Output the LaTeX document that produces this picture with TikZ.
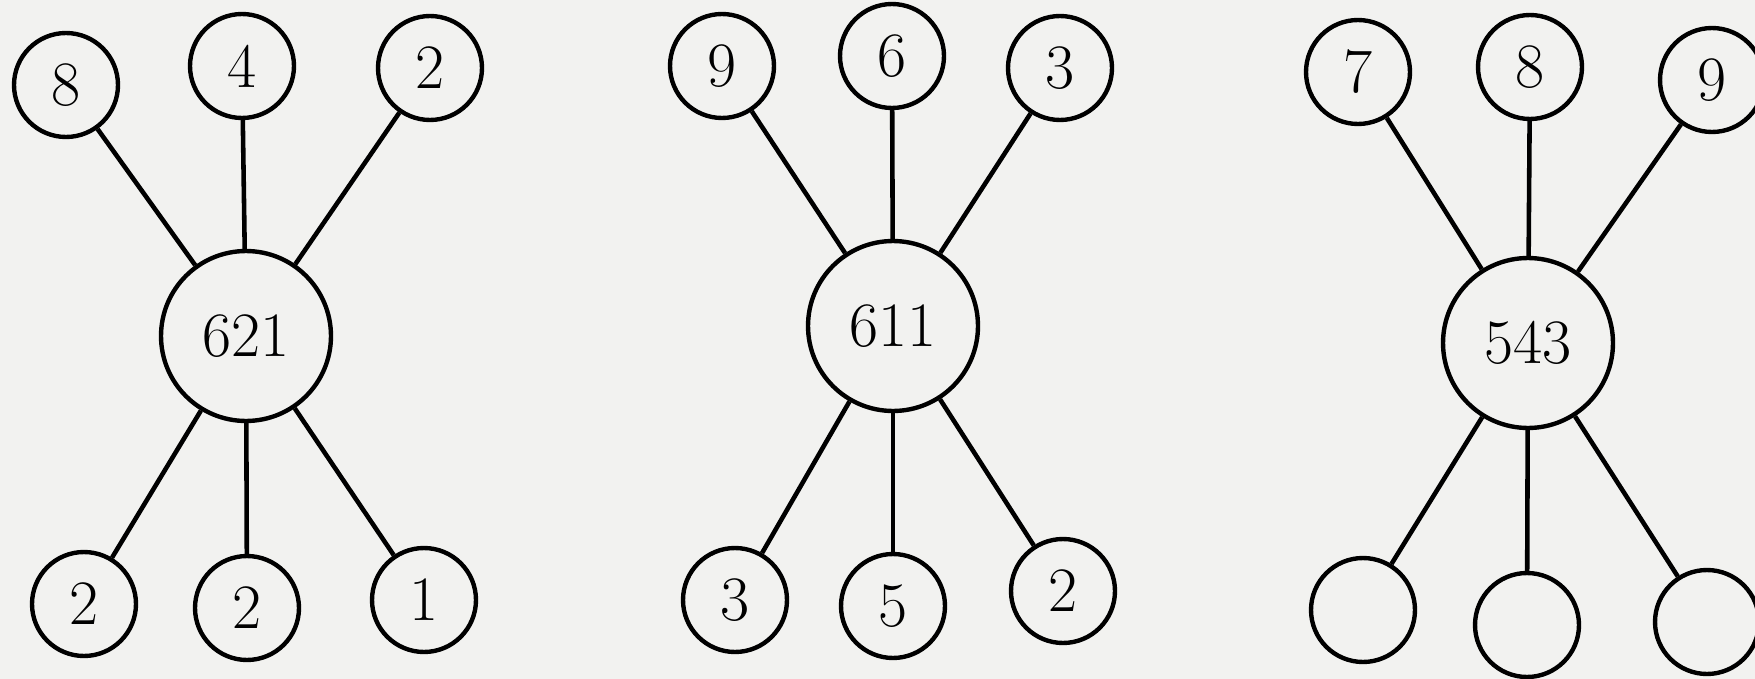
\documentclass[tikz,border=0pt]{standalone}
\usepackage{tikz}
\usepackage{xcolor}
\usetikzlibrary{positioning}
\definecolor{paper}{rgb}{0.95,0.95,0.94}

\begin{document}
\begin{tikzpicture}[x=0.02cm, y=-0.02cm,
    leaf/.style={circle, draw, line width=2.5pt, minimum size=2.08cm, inner sep=0pt, font=\fontsize{36}{40}\selectfont},
    hub/.style={circle, draw, line width=2.5pt, minimum size=3.4cm, inner sep=0pt, font=\fontsize{36}{40}\selectfont},
    spoke/.style={line width=2.6pt}]
\useasboundingbox (0,0) rectangle (1755,679);
\fill[paper] (0,0) rectangle (1755,679);
\clip (0,0) rectangle (1755,679);

% First star
\node[hub] (h1) at (246,336) {621};
\node[leaf] (a1) at (66,85) {8};
\node[leaf] (b1) at (242,66) {4};
\node[leaf] (c1) at (430,68) {2};
\node[leaf] (d1) at (84,604) {2};
\node[leaf] (e1) at (247,608) {2};
\node[leaf] (f1) at (424,600) {1};
\foreach \n in {a,b,c,d,e,f} {
    \draw[spoke] (h1) -- (\n1);
}

% Second star
\node[hub] (h2) at (893,326) {611};
\node[leaf] (a2) at (722,66) {9};
\node[leaf] (b2) at (892,56) {6};
\node[leaf] (c2) at (1060,68) {3};
\node[leaf] (d2) at (735,600) {3};
\node[leaf] (e2) at (893,606) {5};
\node[leaf] (f2) at (1063,591) {2};
\foreach \n in {a,b,c,d,e,f} {
    \draw[spoke] (h2) -- (\n2);
}

% Third star, lower circles left empty
\node[hub] (h3) at (1528,343) {543};
\node[leaf] (a3) at (1358,72) {7};
\node[leaf] (b3) at (1530,67) {8};
\node[leaf] (c3) at (1712,80) {9};
\node[leaf] (d3) at (1363,610) {};
\node[leaf] (e3) at (1527,625) {};
\node[leaf] (f3) at (1707,622) {};
\foreach \n in {a,b,c,d,e,f} {
    \draw[spoke] (h3) -- (\n3);
}
\end{tikzpicture}
\end{document}
